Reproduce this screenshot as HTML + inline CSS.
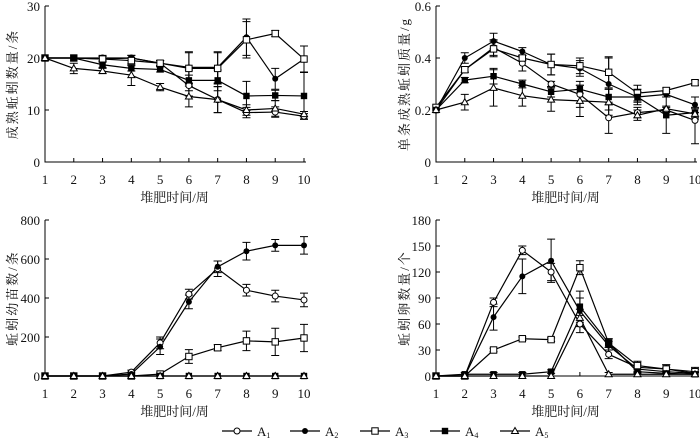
<!DOCTYPE html>
<html><head><meta charset="utf-8"><style>
body{margin:0;background:#fff;width:700px;height:438px;overflow:hidden}
svg text{font-family:"Liberation Serif","Noto Serif CJK SC",serif;fill:#111}
</style></head><body>
<svg id="s" width="700" height="438" xmlns="http://www.w3.org/2000/svg"></svg>
<script>
const S=document.getElementById('s');let h='';
const P=[
 {x0:45,x1:304,yt:6,yb:162,max:30,ticks:[0,10,20,30],lab:'成熟蚯蚓数量/条',lx:12,
  d:[[20,20,20,20,19,14.7,12,9.5,9.6,8.8],[20,20,19.8,20,19,18.2,18.2,24,16,19.8],[20,20,19.8,19.5,19,18,18,23.5,24.7,19.8],[20,20,18.7,18,17.8,15.7,15.7,12.7,12.8,12.7],[20,18,17.5,16.7,14.4,12.6,12,10,10.3,9.2]],
  e:[[0,0,.5,.5,.5,2,2.5,1,1,.5],[0,0,.5,.5,.5,3,3,3.5,2,2.5],[0,0,.5,.5,.5,3,3,3.5,.6,2.5],[0,0,.5,.5,.5,2,2,2.8,1,4.5],[0,1,.5,2,.7,2,2.5,1,1.5,.5]],fmt:v=>v},
 {x0:436,x1:695,yt:6,yb:162,max:.6,ticks:[0,.2,.4,.6],lab:'单条成熟蚯蚓质量/g',lx:404,
  d:[[.2,.355,.44,.38,.30,.26,.17,.19,.20,.16],[.2,.40,.465,.425,.375,.36,.30,.25,.26,.22],[.21,.355,.435,.40,.375,.37,.345,.265,.275,.305],[.2,.315,.33,.30,.27,.28,.25,.25,.18,.19],[.2,.23,.285,.255,.24,.235,.23,.18,.205,.185]],
  e:[[0,.01,.03,.03,.01,.05,.06,.02,.01,.09],[0,.02,.03,.015,.04,.03,.1,.03,.01,.03],[0,.01,.03,.01,.04,.03,.06,.03,.01,.01],[0,.01,.03,.015,.02,.015,.03,.02,.07,.02],[0,.03,.07,.04,.045,.06,.05,.02,.01,.02]],fmt:v=>v==0?'0':v.toFixed(1)},
 {x0:45,x1:304,yt:220,yb:376,max:800,ticks:[0,200,400,600,800],lab:'蚯蚓幼苗数/条',lx:12,
  d:[[0,0,0,20,170,420,550,440,410,390],[0,0,0,10,150,380,560,640,670,670],[0,0,0,0,10,100,145,180,175,195],[0,0,0,0,0,0,0,0,0,0],[0,0,0,0,0,0,0,0,0,0]],
  e:[[0,0,0,10,30,25,40,30,30,35],[0,0,0,10,40,35,30,45,30,45],[0,0,0,0,5,35,15,50,70,70],[0,0,0,0,0,0,0,0,0,0],[0,0,0,0,0,0,0,0,0,0]],fmt:v=>v},
 {x0:436,x1:695,yt:220,yb:376,max:180,ticks:[0,30,60,90,120,150,180],lab:'蚯蚓卵数量/个',lx:404,
  d:[[0,0,85,145,120,60,25,10,8,3],[0,0,68,115,133,75,35,8,5,3],[0,0,30,43,42,125,38,12,8,5],[0,2,2,2,5,80,38,5,3,2],[0,0,0,0,0,67,2,2,2,2]],
  e:[[0,0,5,5,10,10,5,5,5,5],[0,0,15,20,25,15,5,5,5,5],[0,0,2,2,2,8,5,5,5,5],[0,2,2,2,2,18,5,5,3,3],[0,0,0,0,0,10,2,2,2,2]],fmt:v=>v}
];
function mk(t,x,y){
 if(t==0)return `<circle cx="${x}" cy="${y}" r="3" fill="#fff" stroke="#000" stroke-width="1"/>`;
 if(t==1)return `<circle cx="${x}" cy="${y}" r="3" fill="#000"/>`;
 if(t==2)return `<rect x="${x-3.2}" y="${y-3.2}" width="6.4" height="6.4" fill="#fff" stroke="#000" stroke-width="1"/>`;
 if(t==3)return `<rect x="${x-3.2}" y="${y-3.2}" width="6.4" height="6.4" fill="#000"/>`;
 return `<polygon points="${x},${y-3.5} ${x+3.5},${y+2.5} ${x-3.5},${y+2.5}" fill="#fff" stroke="#000" stroke-width="1"/>`;
}
P.forEach(p=>{
 const sx=i=>p.x0+(p.x1-p.x0)*i/9, sy=v=>p.yb-(p.yb-p.yt)*v/p.max;
 h+=`<path d="M${p.x0},${p.yt}V${p.yb}H${p.x1+2}" fill="none" stroke="#000" stroke-width="1"/>`;
 p.ticks.forEach(t=>{let y=sy(t);h+=`<line x1="${p.x0}" x2="${p.x0+4}" y1="${y}" y2="${y}" stroke="#000"/><text x="${p.x0-5}" y="${y+5}" font-size="13" text-anchor="end">${p.fmt(t)}</text>`});
 for(let i=0;i<10;i++){let x=sx(i);h+=`<line x1="${x}" x2="${x}" y1="${p.yb}" y2="${p.yb-4}" stroke="#000"/><text x="${x}" y="${p.yb+22}" font-size="13" text-anchor="middle">${i+1}</text>`}
 h+=`<text x="${(p.x0+p.x1)/2}" y="${p.yb+40}" font-size="13" text-anchor="middle">堆肥时间/周</text>`;
 h+=`<text transform="translate(${p.lx+5},${(p.yt+p.yb)/2}) rotate(-90)" font-size="13" letter-spacing="2" text-anchor="middle">${p.lab}</text>`;
 p.d.forEach((s,k)=>{
  h+=`<polyline points="${s.map((v,i)=>sx(i)+','+sy(v)).join(' ')}" fill="none" stroke="#000" stroke-width="1.2"/>`;
  s.forEach((v,i)=>{let e=p.e[k][i];if(e>0){let x=sx(i),a=sy(v+e),b=sy(Math.max(0,v-e));h+=`<path d="M${x},${a}V${b}M${x-4},${a}H${x+4}M${x-4},${b}H${x+4}" stroke="#000" stroke-width="1"/>`}});
 });
 p.d.forEach((s,k)=>s.forEach((v,i)=>h+=mk(k,sx(i),sy(v))));
});
const lx=[222,290,360,430,500];
lx.forEach((x,k)=>{h+=`<line x1="${x}" x2="${x+30}" y1="431" y2="431" stroke="#000" stroke-width="1.2"/>`+mk(k,x+15,431)+`<text x="${x+35}" y="436" font-size="13">A<tspan font-size="8" dy="2">${k+1}</tspan></text>`});
S.innerHTML=h;
</script>
</body></html>
